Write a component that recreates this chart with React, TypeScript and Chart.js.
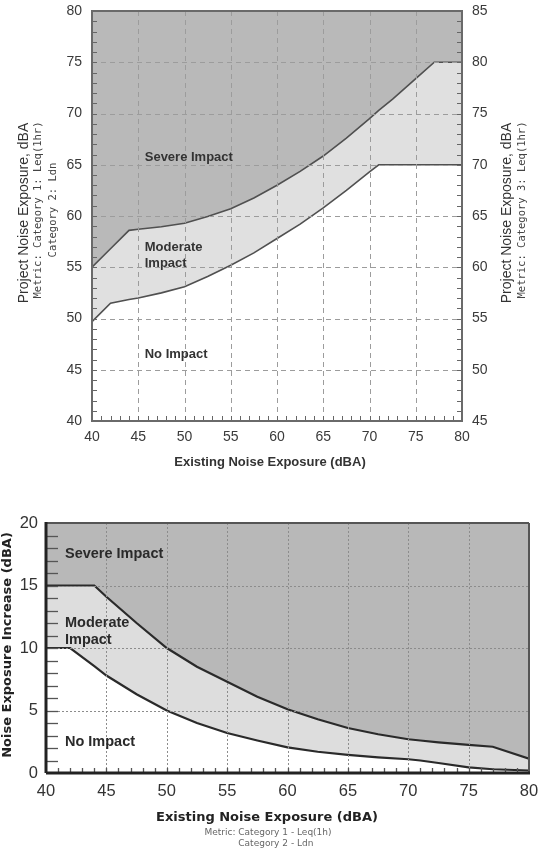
import React, { useEffect, useRef } from 'react';
import { Chart, registerables } from 'chart.js';
Chart.register(...registerables);

// Existing noise exposure (dBA) sample points shared by all curves
const EXISTING = [40, 42, 44, 45, 47.5, 50, 52.5, 55, 57.5, 60, 62.5, 65, 67.5, 70, 71, 72.5, 75, 77, 80];
// Top chart: project noise exposure at onset of impact (dBA)
const SEVERE_ONSET = [55, 56.8, 58.6, 58.7, 58.95, 59.3, 59.95, 60.7, 61.75, 63.0, 64.35, 65.85, 67.6, 69.5, 70.3, 71.4, 73.4, 75, 75];
const MODERATE_ONSET = [49.7, 51.5, 51.85, 52.0, 52.5, 53.1, 54.1, 55.2, 56.4, 57.8, 59.2, 60.8, 62.5, 64.3, 65, 65, 65, 65, 65];
// Bottom chart: noise exposure increase at onset of impact (dBA)
const SEVERE_INCREASE = [15, 15, 15, 14.1, 12.0, 10.0, 8.5, 7.3, 6.1, 5.1, 4.3, 3.6, 3.1, 2.7, 2.6, 2.45, 2.25, 2.1, 1.15];
const MODERATE_INCREASE = [10, 10, 8.55, 7.8, 6.3, 5.0, 4.0, 3.2, 2.6, 2.05, 1.7, 1.45, 1.25, 1.1, 1.0, 0.8, 0.45, 0.3, 0.2];

// Tick labels
const X_TICKS = [40, 45, 50, 55, 60, 65, 70, 75, 80];
const Y_TICKS_TOP = [40, 45, 50, 55, 60, 65, 70, 75, 80];
const Y2_TICKS_TOP = [45, 50, 55, 60, 65, 70, 75, 80, 85];
const Y_TICKS_BOTTOM = [0, 5, 10, 15, 20];

const ZONES = ['Severe Impact', 'Moderate', 'Impact', 'No Impact'];

const SANS = '"Liberation Sans", Arial, sans-serif';
const DV = '"DejaVu Sans", Verdana, sans-serif';
const MONO = '"DejaVu Sans Mono", monospace';

const pts = (ys: number[]) => EXISTING.map((x, i) => ({ x, y: ys[i] }));
const setTicks = (vals: number[]) => (s: any) => { s.ticks = vals.map((v) => ({ value: v })); };

function vtext(ctx: CanvasRenderingContext2D, t: string, x: number, y: number, font: string, color: string) {
  ctx.save();
  ctx.translate(x, y);
  ctx.rotate(-Math.PI / 2);
  ctx.font = font;
  ctx.fillStyle = color;
  ctx.textAlign = 'center';
  ctx.textBaseline = 'middle';
  ctx.fillText(t, 0, 0);
  ctx.restore();
}
function seg(ctx: CanvasRenderingContext2D, x1: number, y1: number, x2: number, y2: number) {
  ctx.beginPath();
  ctx.moveTo(x1, y1);
  ctx.lineTo(x2, y2);
  ctx.stroke();
}

const topDecor = {
  id: 'topDecor',
  afterDatasetsDraw(chart: any) {
    const { ctx, chartArea: a, scales } = chart;
    const xs = scales.x, ys = scales.y, y2 = scales.y2;
    ctx.save();
    ctx.strokeStyle = '#9c9c9c';
    ctx.lineWidth = 1;
    ctx.setLineDash([5, 4]);
    X_TICKS.slice(1, -1).forEach((v) => { const p = Math.round(xs.getPixelForValue(v)) + 0.5; seg(ctx, p, a.top, p, a.bottom); });
    Y_TICKS_TOP.slice(1, -1).forEach((v) => { const p = Math.round(ys.getPixelForValue(v)) + 0.5; seg(ctx, a.left, p, a.right, p); });
    ctx.setLineDash([]);
    ctx.strokeStyle = '#666';
    ctx.lineWidth = 1;
    for (let v = 40; v <= 80; v += 1) {
      const p = Math.round(xs.getPixelForValue(v)) + 0.5;
      seg(ctx, p, a.bottom, p, a.bottom - 5);
      const q = Math.round(ys.getPixelForValue(v)) + 0.5;
      seg(ctx, a.left, q, a.left + 5, q);
    }
    for (let v = 45; v <= 85; v += 1) {
      const q = Math.round(y2.getPixelForValue(v)) + 0.5;
      seg(ctx, a.right, q, a.right - 5, q);
    }
    ctx.strokeStyle = '#6a6a6a';
    ctx.lineWidth = 2;
    ctx.strokeRect(a.left, a.top, a.right - a.left, a.bottom - a.top);
    // zone labels
    ctx.fillStyle = '#333';
    ctx.font = `bold 13px ${SANS}`;
    ctx.textAlign = 'left';
    ctx.textBaseline = 'middle';
    const lx = xs.getPixelForValue(45.7);
    ctx.fillText(ZONES[0], lx, ys.getPixelForValue(65.75));
    ctx.fillText(ZONES[1], lx, ys.getPixelForValue(56.95));
    ctx.fillText(ZONES[2], lx, ys.getPixelForValue(55.4));
    ctx.fillText(ZONES[3], lx, ys.getPixelForValue(46.45));
    // axis titles
    vtext(ctx, 'Project Noise Exposure, dBA', 24, 213, `14px ${SANS}`, '#333');
    vtext(ctx, 'Metric: Category 1: Leq(1hr)', 38, 210, `10.5px ${MONO}`, '#444');
    vtext(ctx, 'Category 2: Ldn', 53, 210, `10.5px ${MONO}`, '#444');
    vtext(ctx, 'Project Noise Exposure, dBA', 507, 213, `14px ${SANS}`, '#333');
    vtext(ctx, 'Metric: Category 3: Leq(1hr)', 522, 210, `10.5px ${MONO}`, '#444');
    ctx.font = `bold 13px ${SANS}`;
    ctx.textAlign = 'center';
    ctx.fillStyle = '#333';
    ctx.fillText('Existing Noise Exposure (dBA)', 270, 462);
    ctx.restore();
  },
};

const bottomDecor = {
  id: 'bottomDecor',
  afterDatasetsDraw(chart: any) {
    const { ctx, chartArea: a, scales } = chart;
    const xs = scales.x, ys = scales.y;
    ctx.save();
    ctx.strokeStyle = '#8c8c8c';
    ctx.lineWidth = 1;
    ctx.setLineDash([2, 2]);
    X_TICKS.slice(1, -1).forEach((v) => { const p = Math.round(xs.getPixelForValue(v)) + 0.5; seg(ctx, p, a.top, p, a.bottom); });
    Y_TICKS_BOTTOM.slice(1, -1).forEach((v) => { const p = Math.round(ys.getPixelForValue(v)) + 0.5; seg(ctx, a.left, p, a.right, p); });
    ctx.setLineDash([]);
    ctx.strokeStyle = '#555';
    ctx.lineWidth = 1.3;
    for (let v = 41; v < 80; v += 1) {
      const p = Math.round(xs.getPixelForValue(v)) + 0.5;
      seg(ctx, p, a.bottom, p, a.bottom - 5);
    }
    for (let v = 1; v < 20; v += 1) {
      const q = Math.round(ys.getPixelForValue(v)) + 0.5;
      seg(ctx, a.left, q, a.left + 12, q);
    }
    ctx.strokeStyle = '#555';
    ctx.lineWidth = 2;
    seg(ctx, a.left, a.top, a.right, a.top);
    seg(ctx, a.right, a.top, a.right, a.bottom);
    ctx.strokeStyle = '#222';
    ctx.lineWidth = 3;
    seg(ctx, a.left, a.top - 1, a.left, a.bottom);
    seg(ctx, a.left, a.bottom, a.right + 1, a.bottom);
    // zone labels
    ctx.fillStyle = '#2a2a2a';
    ctx.font = `bold 14.5px ${SANS}`;
    ctx.textAlign = 'left';
    ctx.textBaseline = 'middle';
    const lx = xs.getPixelForValue(41.57);
    ctx.fillText(ZONES[0], lx, ys.getPixelForValue(17.5));
    ctx.fillText(ZONES[1], lx, ys.getPixelForValue(12.0));
    ctx.fillText(ZONES[2], lx, ys.getPixelForValue(10.65));
    ctx.fillText(ZONES[3], lx, ys.getPixelForValue(2.45));
    // titles
    vtext(ctx, 'Noise Exposure Increase (dBA)', 8, 145, `bold 13px ${DV}`, '#222');
    ctx.font = `bold 13px ${DV}`;
    ctx.textAlign = 'center';
    ctx.fillStyle = '#222';
    ctx.fillText('Existing Noise Exposure (dBA)', 267, 318);
    ctx.font = `9px ${DV}`;
    ctx.fillStyle = '#666';
    ctx.textAlign = 'left';
    const l1 = 'Metric: Category 1 - Leq(1h)';
    const w1 = ctx.measureText(l1).width;
    const x1 = 268 - w1 / 2;
    ctx.fillText(l1, x1, 333);
    ctx.fillText('Category 2 - Ldn', x1 + ctx.measureText('Metric: ').width, 344);
    ctx.restore();
  },
};

function baseScale(extra: any) {
  return {
    type: 'linear',
    grid: { display: false, drawTicks: false },
    border: { display: false },
    ...extra,
  };
}

// fix an axis' thickness and drop the extra label overhang padding
const fixSize = (prop: 'width' | 'height', size: number) => (s: any) => {
  s[prop] = size;
  s.paddingTop = 0;
  s.paddingBottom = 0;
  s.paddingLeft = 0;
  s.paddingRight = 0;
};

function useChart(ref: React.RefObject<HTMLCanvasElement>, makeConfig: () => any) {
  useEffect(() => {
    if (!ref.current) return;
    const chart = new Chart(ref.current, makeConfig());
    return () => chart.destroy();
  }, []);
}

function TopChart() {
  const ref = useRef<HTMLCanvasElement>(null);
  useChart(ref, () => ({
    type: 'line',
    data: {
      datasets: [
        { data: pts(SEVERE_ONSET), borderColor: '#505050', borderWidth: 1.6, backgroundColor: '#b9b9b9', fill: 'end', pointRadius: 0, tension: 0 },
        { data: pts(MODERATE_ONSET), borderColor: '#505050', borderWidth: 1.6, backgroundColor: '#e0e0e0', fill: '-1', pointRadius: 0, tension: 0 },
      ],
    },
    options: {
      responsive: false,
      animation: false,
      events: [],
      layout: { padding: { top: 11, left: 0, right: 0, bottom: 0 } },
      plugins: { legend: { display: false }, tooltip: { enabled: false } },
      scales: {
        x: baseScale({
          min: 40, max: 80,
          afterBuildTicks: setTicks(X_TICKS),
          afterFit: fixSize('height', 59),
          ticks: { padding: 8, maxRotation: 0, autoSkip: false, color: '#3a3a3a', font: { family: SANS, size: 14 } },
        }),
        y: baseScale({
          position: 'left', min: 40, max: 80,
          afterBuildTicks: setTicks(Y_TICKS_TOP),
          afterFit: fixSize('width', 92),
          ticks: { padding: 10, color: '#3a3a3a', font: { family: SANS, size: 14 } },
        }),
        y2: baseScale({
          position: 'right', min: 45, max: 85,
          afterBuildTicks: setTicks(Y2_TICKS_TOP),
          afterFit: fixSize('width', 77),
          ticks: { padding: 10, color: '#3a3a3a', font: { family: SANS, size: 14 } },
        }),
      },
    },
    plugins: [topDecor],
  }));
  return <canvas ref={ref} width={539} height={480} style={{ display: 'block', position: 'absolute', left: 0, top: 0 }} />;
}

function BottomChart() {
  const ref = useRef<HTMLCanvasElement>(null);
  useChart(ref, () => ({
    type: 'line',
    data: {
      datasets: [
        { data: pts(SEVERE_INCREASE), borderColor: '#2a2a2a', borderWidth: 2.2, backgroundColor: '#b8b8b8', fill: 'end', pointRadius: 0, tension: 0 },
        { data: pts(MODERATE_INCREASE), borderColor: '#2a2a2a', borderWidth: 2.2, backgroundColor: '#dddddd', fill: '-1', pointRadius: 0, tension: 0 },
      ],
    },
    options: {
      responsive: false,
      animation: false,
      events: [],
      layout: { padding: { top: 23, left: 0, right: 10, bottom: 0 } },
      plugins: { legend: { display: false }, tooltip: { enabled: false } },
      scales: {
        x: baseScale({
          min: 40, max: 80,
          afterBuildTicks: setTicks(X_TICKS),
          afterFit: fixSize('height', 77),
          ticks: { padding: 9, maxRotation: 0, autoSkip: false, color: '#333', font: { family: SANS, size: 16.5 } },
        }),
        y: baseScale({
          position: 'left', min: 0, max: 20,
          afterBuildTicks: setTicks(Y_TICKS_BOTTOM),
          afterFit: fixSize('width', 46),
          ticks: { padding: 8, color: '#333', font: { family: SANS, size: 16.5 } },
        }),
      },
    },
    plugins: [bottomDecor],
  }));
  return <canvas ref={ref} width={539} height={350} style={{ display: 'block', position: 'absolute', left: 0, top: 500 }} />;
}

export default function App() {
  return (
    <div style={{ position: 'absolute', left: 0, top: 0, width: 539, height: 850, background: '#fff', overflow: 'hidden' }}>
      <TopChart />
      <BottomChart />
    </div>
  );
}
